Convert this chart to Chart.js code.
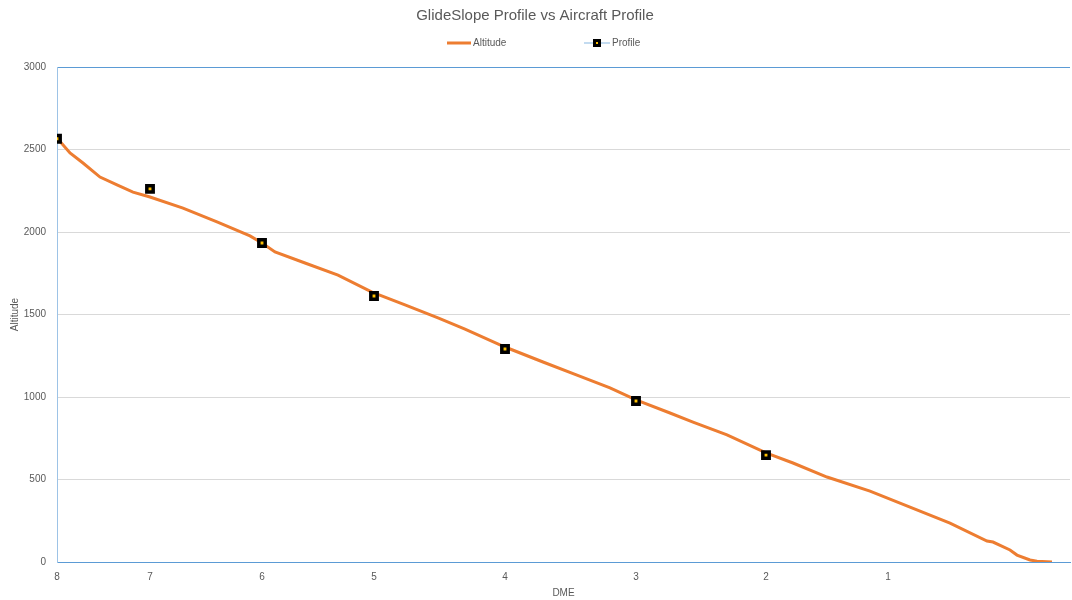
<!DOCTYPE html>
<html>
<head>
<meta charset="utf-8">
<script src="https://cdn.jsdelivr.net/npm/chart.js@4/dist/chart.umd.min.js"></script>
<style>
  body { margin: 0; background: #fff; }
  #wrap { width: 1072px; height: 600px; position: relative; }
</style>
</head>
<body>
<div id="wrap"><canvas id="profileChart"></canvas></div>
<script>
// DME tick labels and the sample index where each one sits on the x axis
const dmeLabels = ['8', '7', '6', '5', '4', '3', '2', '1'];
const dmeSamples = [0, 93, 205, 317, 448, 579, 709, 831];
// aircraft profile (markers) at each DME mark, no value at 1
const profileAlt = [2565, 2261, 1933, 1612, 1291, 976, 648, null];
// glideslope altitude trace
const altSamples = [0, 13, 26, 43, 60, 76, 93, 126, 160, 193, 205, 218, 248, 281, 315, 348, 381, 408,
  448, 486, 520, 553, 579, 613, 636, 670, 709, 736, 770, 813, 853, 893, 930, 936, 953, 960, 973, 980, 995];
const altValues = [2570, 2479, 2418, 2333, 2285, 2242, 2212, 2145, 2061, 1976, 1933, 1879, 1812, 1739, 1636, 1558, 1479, 1412,
  1303, 1212, 1133, 1055, 982, 903, 848, 770, 661, 600, 515, 430, 333, 236, 127, 121, 73, 42, 12, 5, 0];
const sampleMax = 1013;

const textGrey = '#595959';
const orange = '#ED7D31';
const axisBlue = '#5B9BD5';

const fontFam = '"Liberation Sans", Arial, sans-serif';

// legend drawn by hand, Excel style (line + marker)
const legendPlugin = {
  id: 'excelLegend',
  afterDraw(chart) {
    const ctx = chart.ctx;
    const y = 43;
    ctx.save();
    ctx.lineWidth = 3;
    ctx.strokeStyle = orange;
    ctx.beginPath();
    ctx.moveTo(447, y);
    ctx.lineTo(471, y);
    ctx.stroke();

    ctx.lineWidth = 2;
    ctx.strokeStyle = 'rgba(189,215,238,0.9)';
    ctx.beginPath();
    ctx.moveTo(584, y);
    ctx.lineTo(610, y);
    ctx.stroke();
    ctx.fillStyle = '#000';
    ctx.fillRect(593, y - 4, 8, 8);
    ctx.fillStyle = '#FFC000';
    ctx.fillRect(596, y - 1, 2, 2);

    ctx.fillStyle = textGrey;
    ctx.font = '10px ' + fontFam;
    ctx.textBaseline = 'middle';
    ctx.textAlign = 'left';
    ctx.fillText('Altitude', 473, y);
    ctx.fillText('Profile', 612, y);
    ctx.restore();
  }
};

const ctx = document.getElementById('profileChart');
new Chart(ctx, {
  type: 'line',
  data: {
    datasets: [
      {
        label: 'Altitude',
        data: altSamples.map((s, i) => ({x: s, y: altValues[i]})),
        borderColor: orange,
        borderWidth: 3,
        pointRadius: 0,
        tension: 0,
        order: 2
      },
      {
        label: 'Profile',
        data: dmeSamples.map((s, i) => ({x: s, y: profileAlt[i]})),
        showLine: false,
        pointStyle: 'rect',
        pointRadius: 4.5,
        pointBorderWidth: 3.5,
        pointBorderColor: '#000',
        pointBackgroundColor: '#FFC000',
        order: 1
      }
    ]
  },
  options: {
    responsive: true,
    maintainAspectRatio: false,
    animation: false,
    layout: {autoPadding: false, padding: {left: 0, right: 2, top: 0, bottom: 0}},
    plugins: {
      legend: {display: false},
      tooltip: {enabled: false},
      title: {
        display: true,
        text: 'GlideSlope Profile vs Aircraft Profile',
        color: textGrey,
        font: {family: fontFam, size: 15, weight: 'normal'},
        padding: {top: 7, bottom: 42}
      }
    },
    scales: {
      x: {
        type: 'linear',
        min: 0,
        max: sampleMax,
        afterBuildTicks(scale) {
          scale.ticks = dmeSamples.map(v => ({value: v}));
        },
        afterFit(scale) {
          scale.height = 38;
          scale.paddingRight = 0;
        },
        grid: {display: false},
        border: {color: axisBlue, width: 1},
        ticks: {
          color: textGrey,
          font: {family: fontFam, size: 10},
          padding: 1,
          maxRotation: 0,
          autoSkip: false,
          callback: (v) => dmeLabels[dmeSamples.indexOf(v)]
        },
        title: {
          display: true,
          text: 'DME',
          color: textGrey,
          font: {family: fontFam, size: 10},
          padding: {top: 0, bottom: 1}
        }
      },
      y: {
        min: 0,
        max: 3000,
        afterFit(scale) { scale.width = 57; },
        ticks: {
          stepSize: 500,
          color: textGrey,
          font: {family: fontFam, size: 10},
          padding: 11,
          callback: (v) => String(v)
        },
        grid: {
          drawTicks: false,
          lineWidth: 1,
          color: (c) => (c.tick && (c.tick.value === 3000 || c.tick.value === 0)) ? axisBlue : '#D9D9D9'
        },
        border: {color: '#9DC3E6', width: 1},
        title: {
          display: true,
          text: 'Altitude',
          color: textGrey,
          font: {family: fontFam, size: 10},
          padding: {top: 9, bottom: 0}
        }
      }
    }
  },
  plugins: [legendPlugin]
});
</script>
</body>
</html>
